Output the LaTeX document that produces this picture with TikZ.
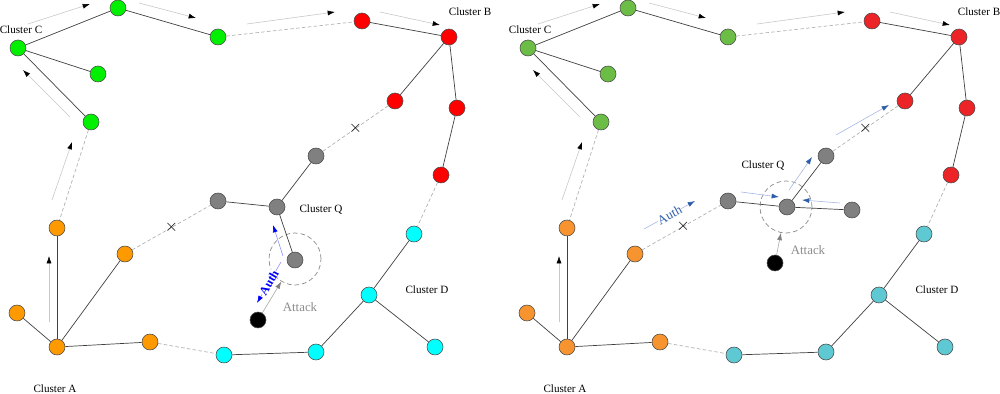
\documentclass[tikz,border=0pt]{standalone}
\usepackage{fontspec}
\setmainfont{Liberation Serif}
\usetikzlibrary{arrows.meta}
\definecolor{vividgreen}{HTML}{00F000}
\definecolor{vividred}{HTML}{FF0000}
\definecolor{vividorange}{HTML}{FF9900}
\definecolor{vividcyan}{HTML}{00FFFF}
\definecolor{softgreen}{HTML}{6CBD45}
\definecolor{softred}{HTML}{EC2327}
\definecolor{softorange}{HTML}{F7942F}
\definecolor{softcyan}{HTML}{5EC9D2}
\definecolor{authblue}{HTML}{0000FF}
\definecolor{authsoft}{HTML}{2D5EAA}
\definecolor{authline}{HTML}{A5B6E2}

\begin{document}
\begin{tikzpicture}[
  x=0.3mm,y=-0.3mm,
  clusternode/.style={circle,draw=black!70,line width=0.5pt,
    minimum size=4.8mm,inner sep=0pt},
  clusterlink/.style={draw=black!75,line width=0.6pt},
  brokenlink/.style={draw=black!30,line width=0.6pt,
    dash pattern=on 3pt off 2pt},
  moveflow/.style={draw=black!22,line width=0.5pt,
    -{Latex[length=2.2mm,width=1.5mm,color=black]}},
  attackflow/.style={draw=black!35,line width=0.5pt,
    -{Latex[length=2.2mm,width=1.5mm,color=black!50]}},
  attackzone/.style={circle,draw=black!45,line width=0.6pt,
    dash pattern=on 4pt off 2.5pt,minimum size=15.6mm,inner sep=0pt},
  clusterlabel/.style={font=\fontsize{9.5}{11}\selectfont,inner sep=0pt},
  attacklabel/.style={font=\fontsize{11}{13}\selectfont,text=black!45,
    inner sep=0pt},
  cutmark/.style={font=\fontsize{14}{16}\selectfont,inner sep=0pt}
]
  \useasboundingbox (0,0) rectangle (1000,394);

  % ---------------- left panel ----------------
  \node[attackzone] (Lzone) at (295,259) {};

  \node[clusternode,fill=vividgreen] (Lc1) at (18,48) {};
  \node[clusternode,fill=vividgreen] (Lc2) at (118,8) {};
  \node[clusternode,fill=vividgreen] (Lc3) at (218,37) {};
  \node[clusternode,fill=vividgreen] (Lc4) at (98,74) {};
  \node[clusternode,fill=vividgreen] (Lc5) at (91,122) {};

  \node[clusternode,fill=vividred] (Lb1) at (362,21) {};
  \node[clusternode,fill=vividred] (Lb2) at (449,37) {};
  \node[clusternode,fill=vividred] (Lb3) at (395,101) {};
  \node[clusternode,fill=vividred] (Lb4) at (457,108) {};
  \node[clusternode,fill=vividred] (Lb5) at (441,175) {};

  \node[clusternode,fill=black!50] (Lq1) at (316,156) {};
  \node[clusternode,fill=black!50] (Lq2) at (218,201) {};
  \node[clusternode,fill=black!50] (Lq3) at (277,207) {};
  \node[clusternode,fill=black!50] (Lq4) at (295,260) {};
  \node[clusternode,fill=black] (Lattacker) at (258,320) {};

  \node[clusternode,fill=vividorange] (La1) at (57,228) {};
  \node[clusternode,fill=vividorange] (La2) at (125,254) {};
  \node[clusternode,fill=vividorange] (La3) at (17,313) {};
  \node[clusternode,fill=vividorange] (La4) at (57,347) {};
  \node[clusternode,fill=vividorange] (La5) at (150,342) {};

  \node[clusternode,fill=vividcyan] (Ld1) at (224,355) {};
  \node[clusternode,fill=vividcyan] (Ld2) at (316,352) {};
  \node[clusternode,fill=vividcyan] (Ld3) at (369,295) {};
  \node[clusternode,fill=vividcyan] (Ld4) at (414,234) {};
  \node[clusternode,fill=vividcyan] (Ld5) at (435,347) {};

  \draw[clusterlink] (Lc1) -- (Lc2);
  \draw[clusterlink] (Lc2) -- (Lc3);
  \draw[clusterlink] (Lc1) -- (Lc4);
  \draw[clusterlink] (Lc1) -- (Lc5);
  \draw[clusterlink] (Lb1) -- (Lb2);
  \draw[clusterlink] (Lb2) -- (Lb3);
  \draw[clusterlink] (Lb2) -- (Lb4);
  \draw[clusterlink] (Lb4) -- (Lb5);
  \draw[clusterlink] (Lq1) -- (Lq3);
  \draw[clusterlink] (Lq2) -- (Lq3);
  \draw[clusterlink] (Lq3) -- (Lq4);
  \draw[clusterlink] (La4) -- (La1);
  \draw[clusterlink] (La4) -- (La2);
  \draw[clusterlink] (La4) -- (La3);
  \draw[clusterlink] (La4) -- (La5);
  \draw[clusterlink] (Ld1) -- (Ld2);
  \draw[clusterlink] (Ld2) -- (Ld3);
  \draw[clusterlink] (Ld3) -- (Ld4);
  \draw[clusterlink] (Ld3) -- (Ld5);

  \draw[brokenlink] (Lc3) -- (Lb1);
  \draw[brokenlink] (Lc5) -- (La1);
  \draw[brokenlink] (Lb3) -- node[cutmark] (Lcut1) {$\times$} (Lq1);
  \draw[brokenlink] (La2) -- node[cutmark] (Lcut2) {$\times$} (Lq2);
  \draw[brokenlink] (La5) -- (Ld1);
  \draw[brokenlink] (Lb5) -- (Ld4);

  \draw[moveflow] (28,24) -- (90,4);
  \draw[moveflow] (139,3) -- (196,18);
  \draw[moveflow] (247,24) -- (335,12);
  \draw[moveflow] (380,12) -- (440,25);
  \draw[moveflow] (70,117) -- (23,70);
  \draw[moveflow] (52,200) -- (72,142);
  \draw[moveflow] (49,322) -- (49,256);

  \draw[draw=authblue!45,line width=0.5pt,
    -{Latex[length=2.2mm,width=1.5mm,color=authblue]}] (283,256) -- (273,225);
  \draw[draw=authblue!45,line width=0.5pt,
    -{Latex[length=2.2mm,width=1.5mm,color=authblue]}] (281,262)
    -- node[sloped,fill=white,inner sep=0.3pt,text=authblue,
      font=\fontsize{10.5}{12}\bfseries\selectfont] (Lauth) {Auth} (257,303);
  \draw[attackflow] (Lattacker) -- (Lzone);
  \node[attacklabel] (Lattack) at (300,307) {Attack};

  \node[clusterlabel] (Llabc) at (21,30) {Cluster C};
  \node[clusterlabel] (Llabb) at (470,12) {Cluster B};
  \node[clusterlabel] (Llabq) at (321,210) {Cluster Q};
  \node[clusterlabel] (Llabd) at (427,290) {Cluster D};
  \node[clusterlabel] (Llaba) at (55,389) {Cluster A};

  % ---------------- right panel ----------------
  \node[attackzone] (Rzone) at (786,207) {};

  \node[clusternode,fill=softgreen] (Rc1) at (528,48) {};
  \node[clusternode,fill=softgreen] (Rc2) at (628,8) {};
  \node[clusternode,fill=softgreen] (Rc3) at (728,37) {};
  \node[clusternode,fill=softgreen] (Rc4) at (608,74) {};
  \node[clusternode,fill=softgreen] (Rc5) at (601,122) {};

  \node[clusternode,fill=softred] (Rb1) at (872,21) {};
  \node[clusternode,fill=softred] (Rb2) at (959,37) {};
  \node[clusternode,fill=softred] (Rb3) at (905,101) {};
  \node[clusternode,fill=softred] (Rb4) at (967,108) {};
  \node[clusternode,fill=softred] (Rb5) at (951,175) {};

  \node[clusternode,fill=black!50] (Rq1) at (826,156) {};
  \node[clusternode,fill=black!50] (Rq2) at (728,201) {};
  \node[clusternode,fill=black!50] (Rq3) at (787,207) {};
  \node[clusternode,fill=black!50] (Rq4) at (852,210) {};
  \node[clusternode,fill=black] (Rattacker) at (775,263) {};

  \node[clusternode,fill=softorange] (Ra1) at (567,228) {};
  \node[clusternode,fill=softorange] (Ra2) at (635,254) {};
  \node[clusternode,fill=softorange] (Ra3) at (527,313) {};
  \node[clusternode,fill=softorange] (Ra4) at (567,347) {};
  \node[clusternode,fill=softorange] (Ra5) at (660,342) {};

  \node[clusternode,fill=softcyan] (Rd1) at (734,355) {};
  \node[clusternode,fill=softcyan] (Rd2) at (826,352) {};
  \node[clusternode,fill=softcyan] (Rd3) at (879,295) {};
  \node[clusternode,fill=softcyan] (Rd4) at (924,234) {};
  \node[clusternode,fill=softcyan] (Rd5) at (945,347) {};

  \draw[clusterlink] (Rc1) -- (Rc2);
  \draw[clusterlink] (Rc2) -- (Rc3);
  \draw[clusterlink] (Rc1) -- (Rc4);
  \draw[clusterlink] (Rc1) -- (Rc5);
  \draw[clusterlink] (Rb1) -- (Rb2);
  \draw[clusterlink] (Rb2) -- (Rb3);
  \draw[clusterlink] (Rb2) -- (Rb4);
  \draw[clusterlink] (Rb4) -- (Rb5);
  \draw[clusterlink] (Rq1) -- (Rq3);
  \draw[clusterlink] (Rq2) -- (Rq3);
  \draw[clusterlink] (Rq3) -- (Rq4);
  \draw[clusterlink] (Ra4) -- (Ra1);
  \draw[clusterlink] (Ra4) -- (Ra2);
  \draw[clusterlink] (Ra4) -- (Ra3);
  \draw[clusterlink] (Ra4) -- (Ra5);
  \draw[clusterlink] (Rd1) -- (Rd2);
  \draw[clusterlink] (Rd2) -- (Rd3);
  \draw[clusterlink] (Rd3) -- (Rd4);
  \draw[clusterlink] (Rd3) -- (Rd5);

  \draw[brokenlink] (Rc3) -- (Rb1);
  \draw[brokenlink] (Rc5) -- (Ra1);
  \draw[brokenlink] (Rb3) -- node[cutmark] (Rcut1) {$\times$} (Rq1);
  \draw[brokenlink] (Ra2) -- node[cutmark,pos=0.52] (Rcut2) {$\times$} (Rq2);
  \draw[brokenlink] (Ra5) -- (Rd1);
  \draw[brokenlink] (Rb5) -- (Rd4);

  \draw[moveflow] (538,24) -- (600,4);
  \draw[moveflow] (649,3) -- (706,18);
  \draw[moveflow] (757,24) -- (845,12);
  \draw[moveflow] (890,12) -- (950,25);
  \draw[moveflow] (580,117) -- (533,70);
  \draw[moveflow] (562,200) -- (582,142);
  \draw[moveflow] (559,322) -- (559,256);

  \draw[draw=authline,line width=0.5pt,
    -{Latex[length=2.2mm,width=1.5mm,color=authsoft]}] (644,229)
    -- node[sloped,fill=white,inner sep=0.3pt,text=authsoft,
      font=\fontsize{11}{13}\selectfont] (Rauth) {Auth} (695,201);
  \draw[draw=authline,line width=0.5pt,
    -{Latex[length=2.2mm,width=1.5mm,color=authsoft]}] (741,192) -- (779,197);
  \draw[draw=authline,line width=0.5pt,
    -{Latex[length=2.2mm,width=1.5mm,color=authsoft]}] (840,203) -- (802,200);
  \draw[draw=authline,line width=0.5pt,
    -{Latex[length=2.2mm,width=1.5mm,color=authsoft]}] (789,190) -- (812,157);
  \draw[draw=authline,line width=0.5pt,
    -{Latex[length=2.2mm,width=1.5mm,color=authsoft]}] (836,135) -- (889,105);
  \draw[attackflow] (Rattacker) -- (Rzone);
  \node[attacklabel] (Rattack) at (808,250) {Attack};

  \node[clusterlabel] (Rlabc) at (530,30) {Cluster C};
  \node[clusterlabel] (Rlabb) at (979,12) {Cluster B};
  \node[clusterlabel] (Rlabq) at (763,166) {Cluster Q};
  \node[clusterlabel] (Rlabd) at (937,290) {Cluster D};
  \node[clusterlabel] (Rlaba) at (565,389) {Cluster A};
\end{tikzpicture}
\end{document}
